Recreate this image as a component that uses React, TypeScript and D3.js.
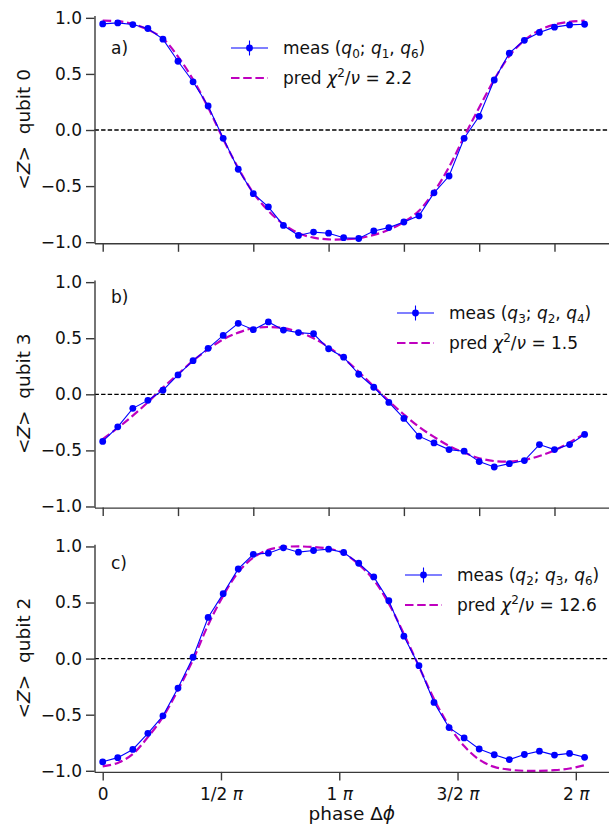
import React, { useEffect, useRef } from "react";
import * as d3 from "d3";

const W = 609;
const H = 827;
const FONT = "DejaVu Sans";
const AXIS_X = 94.5;
const PANEL_H = 227.7;
const PANEL_TOPS = [15.6, 279.9, 544.2];

// phase values (rad)
const PHASE = [
  0, 0.2, 0.4, 0.6, 0.8, 1.0, 1.2, 1.4, 1.6, 1.8, 2.0, 2.2, 2.4, 2.6, 2.8, 3.0, 3.2,
  3.4, 3.6, 3.8, 4.0, 4.2, 4.4, 4.6, 4.8, 5.0, 5.2, 5.4, 5.6, 5.8, 6.0, 6.2, 6.4,
];

const MEAS_A = [
  0.946, 0.955, 0.94, 0.905, 0.81, 0.613, 0.43, 0.214, -0.074, -0.35, -0.568, -0.685,
  -0.851, -0.94, -0.91, -0.92, -0.96, -0.967, -0.9, -0.87, -0.82, -0.765, -0.56, -0.41,
  -0.074, 0.122, 0.446, 0.685, 0.8, 0.87, 0.917, 0.937, 0.943,
];
const PRED_A = [
  0.975, 0.97, 0.945, 0.895, 0.815, 0.655, 0.45, 0.2, -0.08, -0.34, -0.56, -0.72,
  -0.84, -0.92, -0.96, -0.975, -0.975, -0.965, -0.935, -0.89, -0.82, -0.72, -0.55,
  -0.33, -0.06, 0.2, 0.45, 0.66, 0.8, 0.89, 0.94, 0.965, 0.975,
];

const MEAS_B = [
  -0.42, -0.29, -0.125, -0.054, 0.036, 0.173, 0.3, 0.41, 0.525, 0.633, 0.576, 0.645,
  0.573, 0.55, 0.54, 0.406, 0.331, 0.179, 0.063, -0.072, -0.215, -0.373, -0.433,
  -0.493, -0.507, -0.6, -0.648, -0.618, -0.591, -0.448, -0.493, -0.448, -0.358,
];
const PRED_B = [
  -0.4, -0.3, -0.19, -0.07, 0.06, 0.18, 0.3, 0.4, 0.49, 0.55, 0.59, 0.6, 0.59, 0.555,
  0.5, 0.42, 0.32, 0.2, 0.07, -0.06, -0.18, -0.29, -0.38, -0.46, -0.52, -0.57, -0.595,
  -0.6, -0.585, -0.55, -0.5, -0.43, -0.35,
];

const MEAS_C = [
  -0.92, -0.883, -0.81, -0.666, -0.51, -0.263, 0.012, 0.367, 0.579, 0.8, 0.93, 0.94,
  0.988, 0.949, 0.964, 0.976, 0.946, 0.85, 0.728, 0.516, 0.2, -0.063, -0.391, -0.615,
  -0.707, -0.806, -0.857, -0.9, -0.855, -0.825, -0.86, -0.845, -0.88,
];
const PRED_C = [
  -0.96, -0.93, -0.85, -0.7, -0.52, -0.28, -0.01, 0.3, 0.56, 0.77, 0.9, 0.97, 0.995,
  1.0, 0.995, 0.98, 0.94, 0.84, 0.7, 0.49, 0.22, -0.07, -0.36, -0.6, -0.78, -0.9,
  -0.965, -0.99, -1.0, -1.0, -0.995, -0.98, -0.95,
];

const LETTERS = ["a)", "b)", "c)"];
const QUBITS = ["0", "3", "2"];
const MEAS_QUBITS = [
  ["0", "1", "6"],
  ["3", "2", "4"],
  ["2", "3", "6"],
];
const CHI2 = ["2.2", "1.5", "12.6"];
const LEGEND_POS = [
  { x: 231, y: 48 },
  { x: 397, y: 313 },
  { x: 405, y: 575 },
];
const LETTER_Y = [54, 303, 569];

const Y_TICKS = [-1, -0.5, 0, 0.5, 1];
const X_TICKS_TOP = [0, 1, 2, 3, 4, 5, 6];
const X_TICKS_BOTTOM = [0, Math.PI / 2, Math.PI, (3 * Math.PI) / 2, 2 * Math.PI];
const X_TICK_LABELS = ["0", "1/2 ", "1 ", "3/2 ", "2 "];

const BLUE = "#0000ff";
const MAGENTA = "#bf00bf";
const SPINE = "#3a3a3a";

const xScale = d3.scaleLinear().domain([-0.109, 6.724]).range([AXIS_X, W]);

const Panel = ({ idx, meas, pred }: { idx: number; meas: number[]; pred: number[] }) => {
  const axesRef = useRef<SVGGElement>(null);
  const top = PANEL_TOPS[idx];
  const bottom = top + PANEL_H;
  const isLast = idx === 2;

  const yScale = d3.scaleLinear().domain([-1.01, 1.02]).range([bottom, top]);

  useEffect(() => {
    const g = d3.select(axesRef.current);
    g.selectAll("*").remove();

    const xAxis = d3
      .axisBottom(xScale)
      .tickValues(isLast ? X_TICKS_BOTTOM : X_TICKS_TOP)
      .tickSize(8.5)
      .tickSizeOuter(0)
      .tickPadding(7.5)
      .tickFormat(() => "");
    const gx = g.append("g").attr("transform", `translate(0,${bottom})`).call(xAxis);

    const yAxis = d3
      .axisLeft(yScale)
      .tickValues(Y_TICKS)
      .tickSize(8.5)
      .tickSizeOuter(0)
      .tickPadding(4)
      .tickFormat((d) => d3.format(".1f")(d as number));
    const gy = g.append("g").attr("transform", `translate(${AXIS_X},0)`).call(yAxis);

    [gx, gy].forEach((a) => {
      a.attr("font-family", FONT).attr("font-size", 17);
      a.selectAll("path.domain").attr("stroke", SPINE).attr("stroke-width", 1.4);
      a.selectAll(".tick line").attr("stroke", SPINE).attr("stroke-width", 1.4);
      a.selectAll(".tick text").attr("fill", "#111");
    });

    if (isLast) {
      gx.selectAll(".tick text").each(function (_d, i) {
        const t = d3.select(this as SVGTextElement);
        t.style("white-space", "pre").text(X_TICK_LABELS[i]);
        if (i > 0) t.append("tspan").attr("font-style", "italic").text("π");
      });
    }
  }, [idx]);

  const line = d3
    .line<number>()
    .x((_d, i) => xScale(PHASE[i]))
    .y((d) => yScale(d));
  const smooth = d3
    .line<number>()
    .x((_d, i) => xScale(PHASE[i]))
    .y((d) => yScale(d))
    .curve(d3.curveCatmullRom);

  const lg = LEGEND_POS[idx];
  const q = MEAS_QUBITS[idx];
  const midY = (top + bottom) / 2;

  return (
    <g fontFamily={FONT}>
      {/* zero reference */}
      <line
        x1={AXIS_X}
        x2={W}
        y1={yScale(0)}
        y2={yScale(0)}
        stroke="#000"
        strokeWidth={1.3}
        strokeDasharray="4.4,2.2"
      />
      <path d={smooth(pred) || ""} fill="none" stroke={MAGENTA} strokeWidth={2.2} strokeDasharray="8.5,3.7" />
      <path d={line(meas) || ""} fill="none" stroke={BLUE} strokeWidth={1.1} />
      {meas.map((d, i) => (
        <circle key={i} cx={xScale(PHASE[i])} cy={yScale(d)} r={3.4} fill={BLUE} />
      ))}
      <g ref={axesRef} />

      <text x={111} y={LETTER_Y[idx]} fontSize={17} fill="#111">
        {LETTERS[idx]}
      </text>

      <text
        transform={`translate(29.5,${midY}) rotate(-90)`}
        textAnchor="middle"
        fontSize={18.5}
        fill="#111"
        style={{ whiteSpace: "pre" }}
      >
        {"<"}
        <tspan fontStyle="italic">Z</tspan>
        {">  qubit " + QUBITS[idx]}
      </text>

      {/* legend */}
      <g>
        <line x1={lg.x} x2={lg.x + 37} y1={lg.y} y2={lg.y} stroke={BLUE} strokeWidth={1.1} />
        <line x1={lg.x + 18.5} x2={lg.x + 18.5} y1={lg.y - 7.5} y2={lg.y + 7.5} stroke={BLUE} strokeWidth={1.1} />
        <circle cx={lg.x + 18.5} cy={lg.y} r={3.4} fill={BLUE} />
        <text x={lg.x + 52} y={lg.y + 6} fontSize={17} fill="#111" style={{ whiteSpace: "pre" }}>
          {"meas ("}
          <tspan fontStyle="italic">q</tspan>
          <tspan fontSize={12} dy={4}>{q[0]}</tspan>
          <tspan dy={-4}>{"; "}</tspan>
          <tspan fontStyle="italic">q</tspan>
          <tspan fontSize={12} dy={4}>{q[1]}</tspan>
          <tspan dy={-4}>{", "}</tspan>
          <tspan fontStyle="italic">q</tspan>
          <tspan fontSize={12} dy={4}>{q[2]}</tspan>
          <tspan dy={-4}>{")"}</tspan>
        </text>

        <line
          x1={lg.x}
          x2={lg.x + 37}
          y1={lg.y + 30}
          y2={lg.y + 30}
          stroke={MAGENTA}
          strokeWidth={2.2}
          strokeDasharray="8.5,3.7"
        />
        <text x={lg.x + 52} y={lg.y + 36} fontSize={17} fill="#111" style={{ whiteSpace: "pre" }}>
          {"pred "}
          <tspan fontStyle="italic">χ</tspan>
          <tspan fontSize={12} dy={-7}>2</tspan>
          <tspan dy={7}>/</tspan>
          <tspan fontStyle="italic">ν</tspan>
          {" = " + CHI2[idx]}
        </text>
      </g>

      {isLast && (
        <text x={(AXIS_X + W) / 2} y={820} textAnchor="middle" fontSize={18.5} fill="#111">
          {"phase Δ"}
          <tspan fontStyle="italic">ϕ</tspan>
        </text>
      )}
    </g>
  );
};

const App = () => {
  const series = [
    [MEAS_A, PRED_A],
    [MEAS_B, PRED_B],
    [MEAS_C, PRED_C],
  ];
  return (
    <svg
      width={W}
      height={H}
      style={{ position: "absolute", left: 0, top: 0, background: "#fff" }}
    >
      {series.map(([m, p], i) => (
        <Panel key={i} idx={i} meas={m} pred={p} />
      ))}
    </svg>
  );
};

export default App;
